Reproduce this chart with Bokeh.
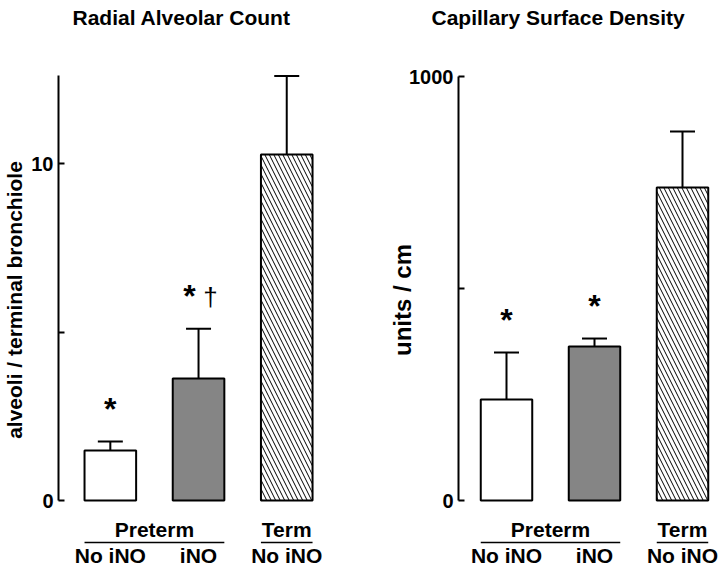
from bokeh.plotting import figure
from bokeh.models import ColumnDataSource, Range1d, LinearAxis, FixedTicker, Whisker, TeeHead, Title
from bokeh.layouts import row
from bokeh.embed import file_html
from bokeh.resources import INLINE
from bokeh.core.properties import value

# ---------------- data ----------------
groups = ["Preterm", "Preterm", "Term"]
conditions = ["No iNO", "iNO", "No iNO"]

rac_title = "Radial Alveolar Count"
rac_ylabel = "alveoli / terminal bronchiole"
rac_mean = [1.48, 3.62, 10.27]
rac_upper = [1.75, 5.10, 12.6]
rac_sig = ["*", "*", ""]
rac_dagger = ["", "†", ""]
rac_ticks = [0, 5, 10]
rac_axis_top = 12.6

csd_title = "Capillary Surface Density"
csd_ylabel = "units / cm"
csd_mean = [238, 363, 738]
csd_upper = [349, 382, 870]
csd_sig = ["*", "*", ""]
csd_dagger = ["", "", ""]
csd_ticks = [0, 500, 1000]
csd_axis_top = 1000

# ---------------- styling / layout ----------------
FONT = "Liberation Sans"
FILLS = ["white", "#858585", "white"]
HATCHES = [" ", " ", "\\"]
H = 569            # figure height
TOP = 30           # frame top (figure px), shared by both panels
ZERO_Y = 500       # figure-pixel row of value 0
BAR_W = 0.585


def make_panel(title, ylabel, mean, upper, sig, dagger, ticks, axis_top,
               ppu, frame_left, step, first_off, width, title_off,
               label_standoff, label_size):
    xs = list(range(1, len(mean) + 1))
    frame_w = width - frame_left
    x0 = 1 - first_off / step
    xr = Range1d(x0, x0 + frame_w / step)
    yr = Range1d(-(H - ZERO_Y) / ppu, (ZERO_Y - TOP) / ppu)

    def yd(py):  # figure pixel row -> data
        return (ZERO_Y - py) / ppu

    p = figure(width=width, height=H, output_backend="svg", toolbar_location=None,
               x_range=xr, y_range=yr,
               x_axis_location=None, y_axis_location=None,
               min_border_left=frame_left, min_border_right=0,
               min_border_top=TOP, min_border_bottom=0)
    p.title = Title(text=title, align="left", offset=title_off, standoff=0,
                    text_font=FONT, text_font_style="bold", text_font_size="21px",
                    text_color="black", vertical_align="top")
    p.outline_line_color = None
    p.background_fill_color = "white"
    p.border_fill_color = "white"
    p.grid.visible = False

    ax = LinearAxis(ticker=FixedTicker(ticks=ticks), bounds=(0, axis_top),
                    axis_label=ylabel,
                    major_label_overrides={ticks[1]: ""})
    ax.axis_line_width = 2
    ax.axis_line_color = "black"
    ax.major_tick_line_width = 2
    ax.major_tick_in = 6
    ax.major_tick_out = 0
    ax.minor_tick_line_color = None
    ax.major_label_text_font = FONT
    ax.major_label_text_font_style = "bold"
    ax.major_label_text_font_size = "20px"
    ax.major_label_text_color = "black"
    ax.major_label_standoff = 5
    ax.axis_label_text_font = FONT
    ax.axis_label_text_font_style = "bold"
    ax.axis_label_text_font_size = label_size
    ax.axis_label_text_color = "black"
    ax.axis_label_standoff = label_standoff
    p.add_layout(ax, "left")

    src = ColumnDataSource(dict(
        x=xs, top=mean, upper=upper, fill=FILLS, hatch=HATCHES,
        sig=sig, dagger=dagger,
        sdx=[-9 if d else 0 for d in dagger],
    ))

    p.vbar(x="x", top="top", bottom=0, width=BAR_W, source=src,
           fill_color="fill", line_color="black", line_width=2,
           hatch_pattern="hatch", hatch_color="black", hatch_scale=9, hatch_weight=1)

    wh = Whisker(source=src, base="x", lower="top", upper="upper",
                 line_color="black", line_width=2,
                 upper_head=TeeHead(size=25, line_width=2, line_color="black"),
                 lower_head=None)
    p.add_layout(wh)

    p.text(x="x", y="upper", text="sig", source=src, x_offset="sdx", y_offset=-33,
           text_font=value(FONT), text_font_style="bold", text_font_size="32px",
           text_align="center", text_baseline="alphabetic", text_color="black")
    p.text(x="x", y="upper", text="dagger", source=src, x_offset=12, y_offset=-32,
           text_font=value(FONT), text_font_style="normal", text_font_size="26px",
           text_align="center", text_baseline="alphabetic", text_color="black")

    # group labels with underline, condition labels
    order = []
    for g in groups:
        if g not in order:
            order.append(g)
    gx, gtext, lx0, lx1 = [], [], [], []
    for g in order:
        idx = [xs[i] for i in range(len(xs)) if groups[i] == g]
        gx.append(sum(idx) / len(idx))
        gtext.append(g)
        lx0.append(min(idx) - BAR_W / 2)
        lx1.append(max(idx) + BAR_W / 2)
    p.text(x=gx, y=[yd(529)] * len(gx), text=gtext,
           text_font=value(FONT), text_font_style="bold", text_font_size="21px",
           text_align="center", text_baseline="middle", text_color="black")
    p.segment(x0=lx0, x1=lx1, y0=[yd(542)] * len(gx), y1=[yd(542)] * len(gx),
              line_color="black", line_width=1.3)
    p.text(x=xs, y=[yd(555)] * len(xs), text=conditions,
           text_font=value(FONT), text_font_style="bold", text_font_size="21px",
           text_align="center", text_baseline="middle", text_color="black")
    return p


p1 = make_panel(rac_title, rac_ylabel, rac_mean, rac_upper, rac_sig, rac_dagger,
                rac_ticks, rac_axis_top, ppu=33.7, frame_left=57, step=88.5,
                first_off=52, width=360, title_off=14, label_standoff=2,
                label_size="21px")
p2 = make_panel(csd_title, csd_ylabel, csd_mean, csd_upper, csd_sig, csd_dagger,
                csd_ticks, csd_axis_top, ppu=0.424, frame_left=98, step=88,
                first_off=48, width=360, title_off=-27, label_standoff=-10,
                label_size="24px")

layout = row(p1, p2, spacing=0)
open("out.html", "w").write(file_html(layout, INLINE))
